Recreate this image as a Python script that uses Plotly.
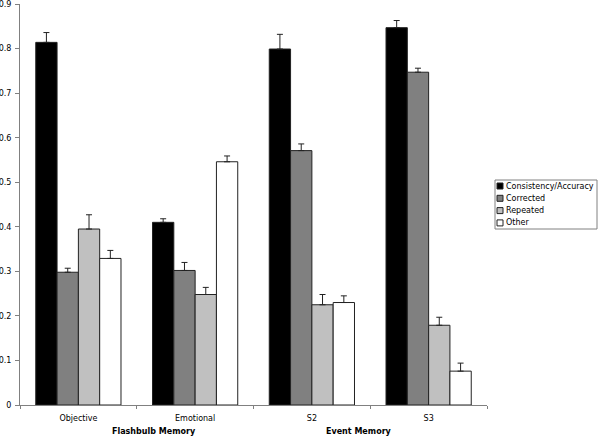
import plotly.graph_objects as go

categories = ["Objective", "Emotional", "S2", "S3"]
series_names = ["Consistency/Accuracy", "Corrected", "Repeated", "Other"]
consistency = [0.814, 0.410, 0.799, 0.847]
consistency_err = [0.022, 0.008, 0.033, 0.016]
corrected = [0.298, 0.302, 0.571, 0.747]
corrected_err = [0.009, 0.018, 0.015, 0.009]
repeated = [0.395, 0.248, 0.225, 0.179]
repeated_err = [0.032, 0.016, 0.023, 0.018]
other = [0.329, 0.546, 0.230, 0.076]
other_err = [0.018, 0.013, 0.015, 0.018]
group_labels = ["Flashbulb Memory", "Event Memory"]
y_ticks = [0, 0.1, 0.2, 0.3, 0.4, 0.5, 0.6, 0.7, 0.8, 0.9]

colors = ["#000000", "#808080", "#c0c0c0", "#ffffff"]
values = [consistency, corrected, repeated, other]
errors = [consistency_err, corrected_err, repeated_err, other_err]

W, H = 600, 437
L, R, T, B = 20, 113, 4, 32
pw, ph = W - L - R, H - T - B
FONT = "DejaVu Sans"

def px_x(x):
    return (x - L) / pw

def px_y(y):
    return (H - B - y) / ph

fig = go.Figure()
for name, vals, errs, col in zip(series_names, values, errors, colors):
    fig.add_trace(go.Bar(
        x=categories, y=vals, name=name,
        marker=dict(color=col, line=dict(color="#222222", width=1)),
        error_y=dict(type="data", symmetric=False, array=errs,
                     arrayminus=[0] * len(errs), color="#222222",
                     thickness=1, width=3),
        showlegend=False,
    ))

shapes = []
annotations = []
# group labels
for lbl, xp in zip(group_labels, [154, 359]):
    annotations.append(dict(text="<b>%s</b>" % lbl, x=px_x(xp), y=px_y(432),
                            xref="paper", yref="paper", showarrow=False,
                            xanchor="center", yanchor="middle",
                            font=dict(family=FONT, size=8, color="#000000")))
# legend box
shapes.append(dict(type="rect", xref="paper", yref="paper",
                   x0=px_x(495), x1=px_x(597), y0=px_y(229), y1=px_y(180),
                   line=dict(color="#808080", width=1), fillcolor="#ffffff"))
for i, (name, col) in enumerate(zip(series_names, colors)):
    yc = 186 + i * 12.3
    shapes.append(dict(type="rect", xref="paper", yref="paper",
                       x0=px_x(497), x1=px_x(503), y0=px_y(yc + 3), y1=px_y(yc - 3),
                       line=dict(color="#222222", width=1), fillcolor=col))
    annotations.append(dict(text=name, x=px_x(504), y=px_y(yc), xref="paper",
                            yref="paper", showarrow=False, xanchor="left",
                            yanchor="middle",
                            font=dict(family=FONT, size=8, color="#000000")))

fig.update_layout(
    width=W, height=H,
    margin=dict(l=L, r=R, t=T, b=B, pad=0, autoexpand=False),
    barmode="group", bargap=0.27, bargroupgap=0,
    plot_bgcolor="#ffffff", paper_bgcolor="#ffffff",
    font=dict(family=FONT, size=8, color="#000000"),
    shapes=shapes, annotations=annotations,
    xaxis=dict(showline=True, linecolor="#808080", linewidth=1,
               ticks="outside", tickson="boundaries", ticklen=3,
               tickcolor="#808080", showgrid=False, zeroline=False,
               automargin=False, ticklabeloverflow="allow",
               ticklabelstandoff=5,
               tickfont=dict(family=FONT, size=8)),
    yaxis=dict(range=[0, 0.9001], tickvals=y_ticks, showline=True,
               linecolor="#808080", linewidth=1, ticks="outside",
               ticklen=4, tickcolor="#808080", showgrid=False,
               zeroline=False, automargin=False, ticklabeloverflow="allow",
               ticklabelstandoff=2,
               tickfont=dict(family=FONT, size=8)),
)

fig.write_html("out.html", config={"displayModeBar": False},
               post_script="document.body.style.margin='0';document.body.style.overflow='hidden';")
